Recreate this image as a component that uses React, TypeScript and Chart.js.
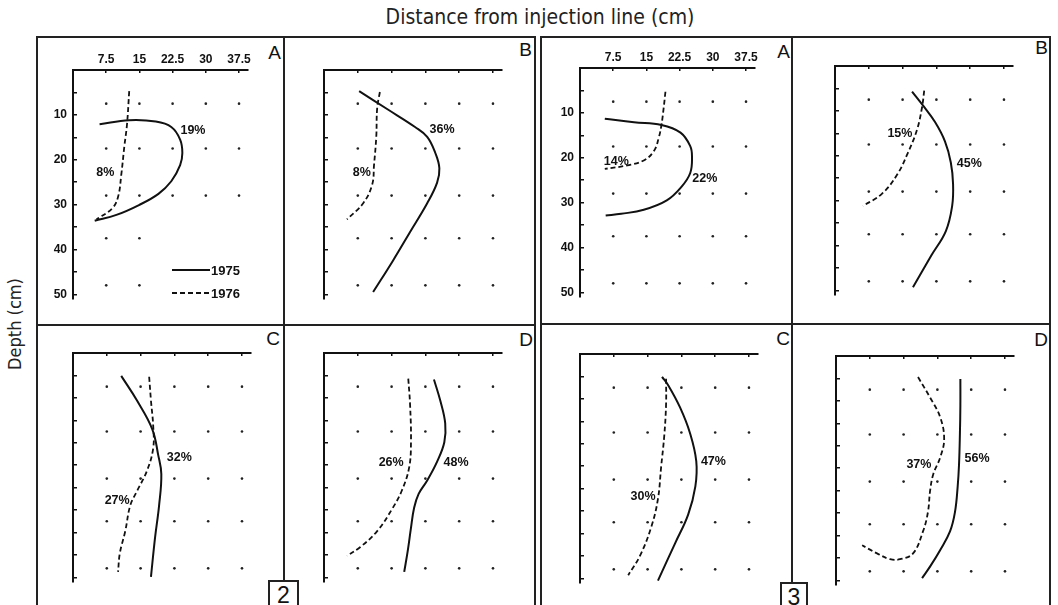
import React, { useEffect, useRef } from "react";
import { Chart, registerables } from "chart.js";

Chart.register(...registerables);
Chart.defaults.font.family = '"Liberation Sans", Arial, sans-serif';

type P = { x: number; y: number };
type Note = { text: string; x: number; y: number };

// ---- axes ----
const distanceTicks = [7.5, 15, 22.5, 30, 37.5];
const depthTicks = [5, 10, 15, 20, 25, 30, 35, 40, 45, 50];
const dotColumns = [7.5, 15, 22.5, 30, 37.5];
const dotRows = [7.5, 17.5, 28, 37.5, 48];
const seriesNames = ["1975", "1976"];

// ---- Figure 2 ----
const f2A_1975: P[] = [
  { x: 6, y: 12.1 }, { x: 12.7, y: 11.2 }, { x: 18.7, y: 11.5 }, { x: 22.2, y: 12.7 },
  { x: 24.2, y: 15.5 }, { x: 24.7, y: 18.5 }, { x: 24.2, y: 21.2 }, { x: 22.2, y: 24.8 },
  { x: 19.3, y: 27.6 }, { x: 14.9, y: 30.1 }, { x: 9.8, y: 32.3 }, { x: 4.9, y: 33.6 },
];
const f2A_1976: P[] = [
  { x: 12.7, y: 4.7 }, { x: 12.2, y: 12.1 }, { x: 11.6, y: 17 }, { x: 10.9, y: 23.4 },
  { x: 10.2, y: 28.2 }, { x: 8.9, y: 30.8 }, { x: 5.3, y: 33.3 },
];
const f2A_notes: Note[] = [
  { text: "19%", x: 27.1, y: 13.6 },
  { text: "8%", x: 7.3, y: 22.9 },
];
const f2A_hiddenDots = [[22.5, 37.5], [30, 37.5], [37.5, 37.5], [22.5, 48], [30, 48], [37.5, 48]];

const f2B_1975: P[] = [
  { x: 7.8, y: 4.7 }, { x: 14, y: 8.7 }, { x: 20.2, y: 12.7 }, { x: 22.9, y: 14.9 },
  { x: 24.7, y: 18.5 }, { x: 25.6, y: 21.9 }, { x: 25.1, y: 25.1 }, { x: 22.9, y: 29.7 },
  { x: 19.1, y: 36.1 }, { x: 15.3, y: 42.5 }, { x: 10.9, y: 49.5 },
];
const f2B_1976: P[] = [
  { x: 12.4, y: 4.9 }, { x: 11.8, y: 8.5 }, { x: 11.6, y: 14.9 }, { x: 11.1, y: 21.2 },
  { x: 10.7, y: 25.5 }, { x: 8.7, y: 29.7 }, { x: 5.1, y: 33.3 },
];
const f2B_notes: Note[] = [
  { text: "36%", x: 26.2, y: 13.2 },
  { text: "8%", x: 8.4, y: 22.9 },
];

const f2C_1975: P[] = [
  { x: 10.7, y: 5.1 }, { x: 14.2, y: 10.6 }, { x: 17.6, y: 17 }, { x: 18.9, y: 22.7 },
  { x: 19.6, y: 27 }, { x: 19.1, y: 34 }, { x: 18.2, y: 41.2 }, { x: 17.3, y: 49.9 },
];
const f2C_1976: P[] = [
  { x: 16.9, y: 5.3 }, { x: 17.3, y: 10.6 }, { x: 17.8, y: 16.3 }, { x: 17.8, y: 21.2 },
  { x: 16.4, y: 26.3 }, { x: 14.2, y: 30.8 }, { x: 12.7, y: 34 }, { x: 11.6, y: 39.7 },
  { x: 10.4, y: 44.6 }, { x: 10, y: 48.8 },
];
const f2C_notes: Note[] = [
  { text: "32%", x: 23.6, y: 23.4 },
  { text: "27%", x: 9.8, y: 32.9 },
];

const f2D_1975: P[] = [
  { x: 24.4, y: 5.9 }, { x: 25.8, y: 10.6 }, { x: 26.9, y: 15.7 }, { x: 26.7, y: 19.9 },
  { x: 25.1, y: 24.2 }, { x: 22.9, y: 28.4 }, { x: 21.0, y: 31.4 }, { x: 20.0, y: 34.5 },
  { x: 19.3, y: 39 }, { x: 18.6, y: 44 }, { x: 17.8, y: 48.8 },
];
const f2D_1976: P[] = [
  { x: 18.7, y: 5.7 }, { x: 19.1, y: 11.5 }, { x: 19.3, y: 19.9 }, { x: 18.9, y: 25.5 },
  { x: 17.3, y: 30.6 }, { x: 15.1, y: 34.8 }, { x: 11.8, y: 39.7 }, { x: 8, y: 43.3 },
  { x: 5.1, y: 45.2 },
];
const f2D_notes: Note[] = [
  { text: "26%", x: 14.9, y: 24.4 },
  { text: "48%", x: 29.3, y: 24.4 },
];

// ---- Figure 3 ----
const f3A_1975: P[] = [
  { x: 5.6, y: 11.3 }, { x: 12.2, y: 12.1 }, { x: 18.4, y: 12.7 }, { x: 22.7, y: 14.4 },
  { x: 24.9, y: 17.4 }, { x: 25.3, y: 19.7 }, { x: 24.9, y: 23.4 }, { x: 22.9, y: 26.5 },
  { x: 19.6, y: 29.5 }, { x: 14.4, y: 31.6 }, { x: 9.3, y: 32.5 }, { x: 5.8, y: 32.9 },
];
const f3A_1976: P[] = [
  { x: 19.3, y: 5.3 }, { x: 18.9, y: 8.9 }, { x: 18.4, y: 12.7 }, { x: 17.8, y: 15.5 },
  { x: 16.7, y: 18.5 }, { x: 14.4, y: 20.6 }, { x: 10.7, y: 21.7 }, { x: 5.6, y: 22.5 },
];
const f3A_notes: Note[] = [
  { text: "14%", x: 8.2, y: 20.8 },
  { text: "22%", x: 28.2, y: 24.6 },
];

const f3B_1975: P[] = [
  { x: 17.1, y: 5.7 }, { x: 19.6, y: 8.9 }, { x: 22.2, y: 12.5 }, { x: 24.4, y: 16.8 },
  { x: 25.7, y: 21.5 }, { x: 26.2, y: 26.3 }, { x: 26.0, y: 31.2 }, { x: 24.6, y: 36.8 },
  { x: 21.4, y: 42.2 }, { x: 17.3, y: 49.3 },
];
const f3B_1976: P[] = [
  { x: 19.8, y: 5.5 }, { x: 19.3, y: 9.3 }, { x: 18.2, y: 14.2 }, { x: 16.2, y: 19.3 },
  { x: 13.8, y: 24.2 }, { x: 10.4, y: 28.5 }, { x: 6.2, y: 31.2 },
];
const f3B_notes: Note[] = [
  { text: "15%", x: 14.4, y: 15.1 },
  { text: "45%", x: 29.8, y: 21.7 },
];

const f3C_1975: P[] = [
  { x: 18.2, y: 5.1 }, { x: 19.6, y: 7 }, { x: 22.2, y: 11.9 }, { x: 24.4, y: 17.6 },
  { x: 25.8, y: 23.9 }, { x: 25.6, y: 29.5 }, { x: 24, y: 35.8 }, { x: 21.1, y: 42.2 },
  { x: 17.3, y: 50.5 },
];
const f3C_1976: P[] = [
  { x: 19.1, y: 5.5 }, { x: 19.1, y: 11.2 }, { x: 18.7, y: 18.2 }, { x: 18, y: 25.2 },
  { x: 17.3, y: 32.3 }, { x: 15.8, y: 38.6 }, { x: 13.3, y: 45 }, { x: 10.7, y: 49.3 },
];
const f3C_notes: Note[] = [
  { text: "47%", x: 29.6, y: 24.0 },
  { text: "30%", x: 14.0, y: 31.8 },
];

const f3D_1975: P[] = [
  { x: 27.6, y: 5.1 }, { x: 27.6, y: 11 }, { x: 27.5, y: 17.2 }, { x: 27.3, y: 24.2 },
  { x: 27.0, y: 29.1 }, { x: 26.4, y: 34.8 }, { x: 25.3, y: 39.1 }, { x: 23.1, y: 43.3 },
  { x: 20.9, y: 46.9 }, { x: 19.1, y: 49.5 },
];
const f3D_1976: P[] = [
  { x: 18.2, y: 4.7 }, { x: 20.9, y: 9.3 }, { x: 23.1, y: 13.6 }, { x: 24, y: 18.5 },
  { x: 23.1, y: 22.7 }, { x: 21.6, y: 26.3 }, { x: 20.9, y: 29.9 }, { x: 20.4, y: 34.8 },
  { x: 19.3, y: 39.1 }, { x: 17.1, y: 44 }, { x: 14.2, y: 45.3 }, { x: 12, y: 45.3 },
  { x: 9.1, y: 44 }, { x: 5.8, y: 42.2 },
];
const f3D_notes: Note[] = [
  { text: "37%", x: 18.4, y: 24.2 },
  { text: "56%", x: 31.3, y: 22.9 },
];

// ---- layout (positions only) ----
const AXIS_W = 32;
const AXIS_H = 22;
const PAD = { left: 4, top: 4, right: 6, bottom: 6 };
const AREA_W = 178;
const AREA_H = 240;
const INK = "#111";

type PanelCfg = {
  left: number; top: number; labelled: boolean; legend: boolean;
  solid: P[]; dashed: P[]; notes: Note[]; hidden: number[][];
};

const panels: PanelCfg[] = [
  { left: 73, top: 70, labelled: true, legend: true, solid: f2A_1975, dashed: f2A_1976, notes: f2A_notes, hidden: f2A_hiddenDots },
  { left: 324, top: 70, labelled: false, legend: false, solid: f2B_1975, dashed: f2B_1976, notes: f2B_notes, hidden: [] },
  { left: 73, top: 353, labelled: false, legend: false, solid: f2C_1975, dashed: f2C_1976, notes: f2C_notes, hidden: [] },
  { left: 324, top: 353, labelled: false, legend: false, solid: f2D_1975, dashed: f2D_1976, notes: f2D_notes, hidden: [] },
  { left: 580, top: 68, labelled: true, legend: false, solid: f3A_1975, dashed: f3A_1976, notes: f3A_notes, hidden: [] },
  { left: 835, top: 66, labelled: false, legend: false, solid: f3B_1975, dashed: f3B_1976, notes: f3B_notes, hidden: [] },
  { left: 580, top: 354, labelled: false, legend: false, solid: f3C_1975, dashed: f3C_1976, notes: f3C_notes, hidden: [] },
  { left: 836, top: 356, labelled: false, legend: false, solid: f3D_1975, dashed: f3D_1976, notes: f3D_notes, hidden: [] },
];

function Panel({ cfg }: { cfg: PanelCfg }) {
  const ref = useRef<HTMLCanvasElement>(null);
  const width = PAD.left + AXIS_W + AREA_W + PAD.right;
  const height = PAD.top + AXIS_H + AREA_H + PAD.bottom;

  useEffect(() => {
    if (!ref.current) return;
    const dots: P[] = [];
    for (const y of dotRows)
      for (const x of dotColumns)
        if (!cfg.hidden.some((h) => h[0] === x && h[1] === y)) dots.push({ x, y });

    const annotate = {
      id: "annotate",
      afterDatasetsDraw(chart: any) {
        const { ctx, scales, chartArea } = chart;
        ctx.save();
        ctx.fillStyle = INK;
        ctx.font = 'bold 12.5px "Liberation Sans", Arial, sans-serif';
        ctx.textAlign = "center";
        ctx.textBaseline = "middle";
        for (const n of cfg.notes) {
          ctx.fillText(n.text, scales.x.getPixelForValue(n.x), scales.y.getPixelForValue(n.y));
        }
        if (cfg.legend) {
          ctx.font = 'bold 13px "Liberation Sans", Arial, sans-serif';
          const lines = chart.data.datasets.filter((d: any) => d.showLine);
          lines.forEach((d: any, i: number) => {
            const x0 = chartArea.left + 99;
            const y0 = chartArea.top + 200 + i * 23;
            ctx.beginPath();
            ctx.strokeStyle = INK;
            ctx.lineWidth = d.borderWidth;
            ctx.setLineDash(d.borderDash || []);
            ctx.moveTo(x0, y0);
            ctx.lineTo(x0 + 38, y0);
            ctx.stroke();
            ctx.setLineDash([]);
            ctx.textAlign = "left";
            ctx.fillText(d.label, x0 + 39, y0 + 1);
          });
        }
        ctx.restore();
      },
    };

    const tickFont = { family: '"Liberation Sans", Arial, sans-serif', size: 12, weight: "bold" as const };

    const chart = new Chart(ref.current, {
      type: "scatter",
      data: {
        datasets: [
          {
            label: "grid",
            data: dots,
            pointRadius: 1.3,
            pointBackgroundColor: "#222",
            pointBorderWidth: 0,
            showLine: false,
          },
          {
            label: seriesNames[0],
            data: cfg.solid,
            showLine: true,
            pointRadius: 0,
            borderColor: INK,
            borderWidth: 2,
            tension: 0.4,
            fill: false,
          },
          {
            label: seriesNames[1],
            data: cfg.dashed,
            showLine: true,
            pointRadius: 0,
            borderColor: INK,
            borderWidth: 1.8,
            borderDash: [5, 3],
            tension: 0.4,
            fill: false,
          },
        ] as any,
      },
      options: {
        animation: false,
        responsive: false,
        maintainAspectRatio: false,
        events: [],
        layout: { padding: PAD },
        plugins: { legend: { display: false }, tooltip: { enabled: false } },
        scales: {
          x: {
            type: "linear",
            position: "top",
            min: 0,
            max: 39.5,
            afterBuildTicks: (s: any) => {
              s.ticks = distanceTicks.map((v) => ({ value: v }));
            },
            afterFit: (s: any) => {
              s.height = AXIS_H;
            },
            grid: { drawOnChartArea: false, drawTicks: true, tickLength: -3, color: INK, lineWidth: 1.5 },
            border: { display: true, color: INK, width: 2 },
            ticks: {
              autoSkip: false,
              maxRotation: 0,
              padding: 6,
              color: INK,
              font: tickFont,
              callback: (v: any) => (cfg.labelled ? String(v) : ""),
            },
          },
          y: {
            type: "linear",
            reverse: true,
            min: 0,
            max: 51,
            afterBuildTicks: (s: any) => {
              s.ticks = depthTicks.map((v) => ({ value: v }));
            },
            afterFit: (s: any) => {
              s.width = AXIS_W;
            },
            grid: { drawOnChartArea: false, drawTicks: true, tickLength: -4, color: INK, lineWidth: 1.5 },
            border: { display: true, color: INK, width: 2 },
            ticks: {
              autoSkip: false,
              padding: 10,
              color: INK,
              font: tickFont,
              callback: (v: any) => (cfg.labelled && Number(v) % 10 === 0 ? String(v) : ""),
            },
          },
        },
      },
      plugins: [annotate],
    });
    return () => chart.destroy();
  }, [cfg]);

  return (
    <canvas
      ref={ref}
      width={width}
      height={height}
      style={{
        position: "absolute",
        left: cfg.left - PAD.left - AXIS_W,
        top: cfg.top - PAD.top - AXIS_H,
        width,
        height,
      }}
    />
  );
}

const frameLines = [
  // figure 2
  { x: 36, y: 36, w: 500, h: 2 },
  { x: 36, y: 36, w: 2, h: 580 },
  { x: 534, y: 36, w: 2, h: 580 },
  { x: 283, y: 36, w: 2, h: 544 },
  { x: 36, y: 324, w: 500, h: 2 },
  // figure 3
  { x: 540, y: 36, w: 511, h: 2 },
  { x: 540, y: 36, w: 2, h: 580 },
  { x: 1049, y: 36, w: 2, h: 580 },
  { x: 791, y: 36, w: 2, h: 546 },
  { x: 540, y: 323, w: 511, h: 2 },
];

const panelLetters = [
  { t: "A", right: 281, top: 43 },
  { t: "B", right: 532, top: 40 },
  { t: "C", right: 280, top: 329 },
  { t: "D", right: 533, top: 330 },
  { t: "A", right: 790, top: 42 },
  { t: "B", right: 1048, top: 38 },
  { t: "C", right: 790, top: 329 },
  { t: "D", right: 1048, top: 330 },
];

const figureBoxes = [
  { t: "2", x: 268, y: 580, w: 31 },
  { t: "3", x: 780, y: 582, w: 28 },
];

export default function App() {
  return (
    <div
      style={{
        position: "fixed",
        left: 0,
        top: 0,
        width: 1058,
        height: 605,
        background: "#fff",
        overflow: "hidden",
        fontFamily: '"Liberation Sans", Arial, sans-serif',
        color: INK,
      }}
    >
      <div
        style={{
          position: "absolute",
          left: 0,
          width: 1080,
          top: 4,
          textAlign: "center",
          fontFamily: '"DejaVu Sans Condensed", "DejaVu Sans", sans-serif',
          fontStretch: "condensed",
          fontSize: 21,
          lineHeight: "26px",
          color: "#222",
        }}
      >
        Distance from injection line (cm)
      </div>
      <div
        style={{
          position: "absolute",
          left: 15 - 60,
          top: 324 - 12,
          width: 120,
          height: 24,
          textAlign: "center",
          transform: "rotate(-90deg)",
          fontFamily: '"DejaVu Sans Condensed", "DejaVu Sans", sans-serif',
          fontStretch: "condensed",
          fontSize: 18,
          lineHeight: "24px",
          color: "#222",
        }}
      >
        Depth (cm)
      </div>
      {frameLines.map((l, i) => (
        <div
          key={"l" + i}
          style={{ position: "absolute", left: l.x, top: l.y, width: l.w, height: l.h, background: "#222" }}
        />
      ))}
      {panelLetters.map((p, i) => (
        <div
          key={"p" + i}
          style={{
            position: "absolute",
            left: p.right - 30,
            width: 30,
            top: p.top,
            textAlign: "right",
            fontSize: 19,
            lineHeight: "19px",
          }}
        >
          {p.t}
        </div>
      ))}
      {figureBoxes.map((b, i) => (
        <div
          key={"b" + i}
          style={{
            position: "absolute",
            left: b.x,
            top: b.y,
            width: b.w - 4,
            height: 30,
            border: "2px solid #222",
            background: "#fff",
            textAlign: "center",
            fontSize: 23,
            lineHeight: "26px",
          }}
        >
          {b.t}
        </div>
      ))}
      {panels.map((p, i) => (
        <Panel key={i} cfg={p} />
      ))}
    </div>
  );
}
